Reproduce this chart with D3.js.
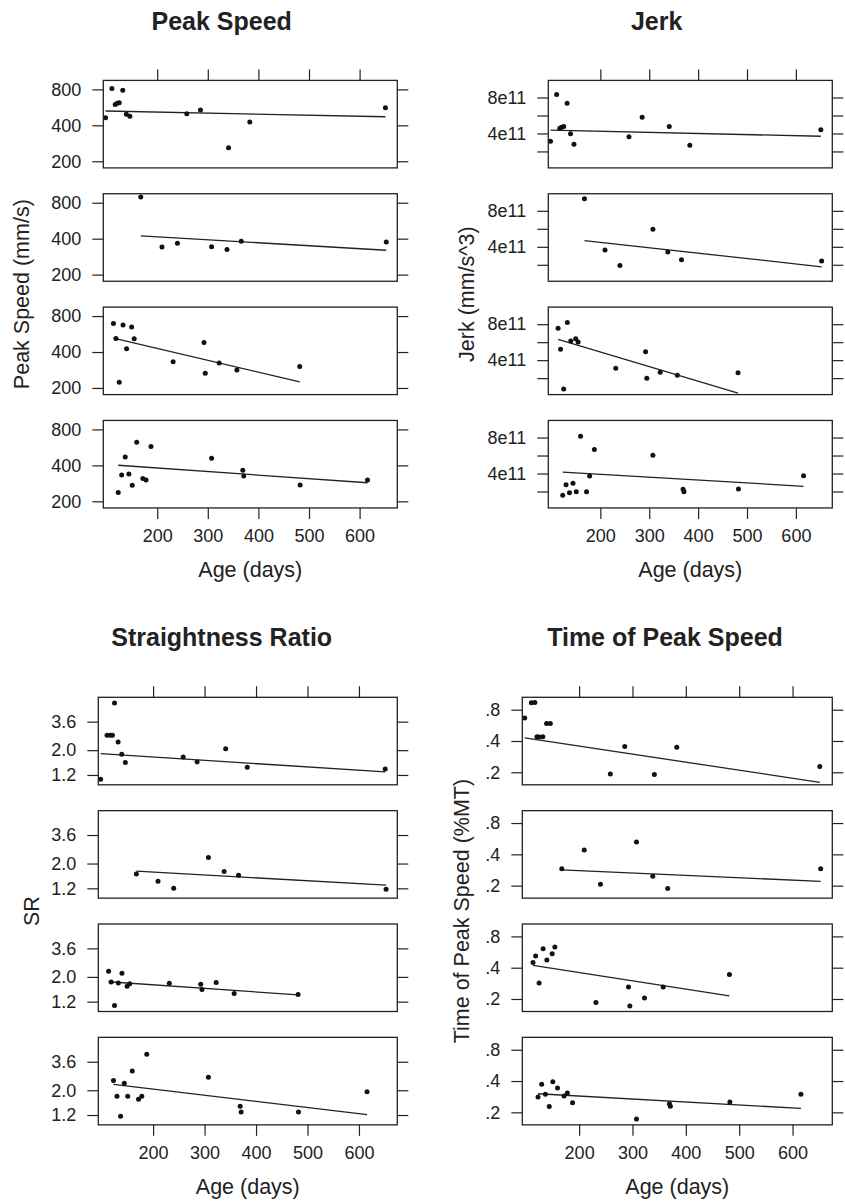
<!DOCTYPE html>
<html><head><meta charset="utf-8">
<script src="https://cdn.jsdelivr.net/npm/d3@7"></script>
<style>
body{margin:0;background:#fff}
svg{display:block}
</style>
</head><body>
<svg id="c" width="845" height="1202"></svg>
<script>
// ---- data: ages (days) per group (subpanel), shared by all four measures ----
const ageG = [
  [98, 110.5, 117, 121, 125, 132, 139, 146, 258.5, 285.5, 341, 383, 651],
  [167.5, 209.5, 240, 307.5, 338, 366, 652.7],
  [113.5, 118.5, 125, 132.5, 139.5, 149.5, 154.5, 231.5, 292.5, 295, 322.5, 357.5, 481.7],
  [123, 129.8, 136.8, 144, 150.7, 159.5, 171.7, 178, 187.7, 307.5, 369.2, 371, 482.5, 615.7]
];
const peakSpeed = [
  [463, 815, 599, 611, 619, 785, 494, 476, 500, 537, 260, 426, 562],
  [893, 341, 366, 343, 324, 381, 375],
  [694, 520, 223, 673, 426, 648, 517, 332, 481, 265, 324, 283, 303],
  [237, 332, 471, 339, 272, 626, 311, 301, 575, 459, 364, 326, 274, 301]
];
const jerk = [
  [3.13e11, 8.34e11, 4.58e11, 4.69e11, 4.76e11, 7.37e11, 3.98e11, 2.79e11, 3.64e11, 5.81e11, 4.76e11, 2.68e11, 4.42e11],
  [9.34e11, 3.64e11, 1.92e11, 5.94e11, 3.42e11, 2.56e11, 2.41e11],
  [7.56e11, 5.20e11, 0.78e11, 8.19e11, 6.12e11, 6.38e11, 6.01e11, 3.10e11, 4.94e11, 2.0e11, 2.66e11, 2.33e11, 2.59e11],
  [1.59e11, 2.76e11, 1.85e11, 2.91e11, 1.96e11, 8.14e11, 1.96e11, 3.71e11, 6.68e11, 6.02e11, 2.25e11, 1.96e11, 2.29e11, 3.75e11]
];
const sr = [
  [1.10, 2.72, 2.72, 2.72, 5.29, 2.37, 1.84, 1.55, 1.74, 1.57, 2.06, 1.41, 1.36],
  [1.61, 1.39, 1.20, 2.27, 1.70, 1.57, 1.18],
  [2.25, 1.80, 1.11, 1.76, 2.16, 1.65, 1.74, 1.75, 1.72, 1.54, 1.78, 1.42, 1.39],
  [2.45, 1.77, 1.17, 2.31, 1.77, 2.97, 1.66, 1.77, 4.19, 2.61, 1.44, 1.28, 1.28, 1.94]
];
const tps = [
  [0.667, 0.933, 0.94, 0.44, 0.438, 0.44, 0.588, 0.588, 0.193, 0.354, 0.190, 0.349, 0.228],
  [0.291, 0.441, 0.206, 0.527, 0.246, 0.188, 0.291],
  [0.450, 0.519, 0.285, 0.610, 0.474, 0.546, 0.633, 0.185, 0.261, 0.171, 0.204, 0.261, 0.345],
  [0.281, 0.372, 0.298, 0.227, 0.394, 0.342, 0.287, 0.307, 0.247, 0.173, 0.242, 0.229, 0.251, 0.298]
];
// fitted line values at the first and last age of each group
const peakSpeedFit = [[527, 472], [422, 320], [524, 225], [401, 286]];
const jerkFit = [[4.36e11, 3.69e11], [4.68e11, 1.78e11], [6.31e11, 0.34e11], [4.15e11, 2.58e11]];
const srFit = [[1.86, 1.28], [1.71, 1.28], [1.81, 1.38], [2.26, 1.21]];
const tpsFit = [[0.429, 0.160], [0.284, 0.220], [0.421, 0.214], [0.302, 0.218]];

// ---- axes ----
const xTicks = [200, 300, 400, 500, 600];
const xDomain = [93.5, 674.5];
const peakSpeedTicks = [200, 400, 800];
const peakSpeedLabels = ["200", "400", "800"];
const peakSpeedDomain = [176, 951];
const jerkTicks = [2e11, 4e11, 6e11, 8e11];
const jerkLabels = ["", "4e11", "", "8e11"];
const jerkDomain = [0.17e11, 9.9e11];
const srTicks = [1.2, 2.0, 3.6];
const srLabels = ["1.2", "2.0", "3.6"];
const srDomain = [0.98, 5.95];
const tpsTicks = [0.2, 0.4, 0.8];
const tpsLabels = [".2", ".4", ".8"];
const tpsDomain = [0.1516, 1.053];

const FONT = '"Liberation Sans", Arial, Helvetica, sans-serif';
const INK = '#222';
const STEP = 113.35, SUBH = 87.5, TICK = 11;

const panels = [
  {title: 'Peak Speed', titleX: 221.7, titleY: 29.5, ylab: 'Peak Speed (mm/s)', ylabX: 22,
   x0: 103.3, x1: 397.3, top: 80.4, log: true, domain: peakSpeedDomain,
   values: peakSpeed, fit: peakSpeedFit, ticks: peakSpeedTicks, labels: peakSpeedLabels},
  {title: 'Jerk', titleX: 656.7, titleY: 29.5, ylab: 'Jerk (mm/s^3)', ylabX: 467,
   x0: 548.3, x1: 832.3, top: 80.4, log: false, domain: jerkDomain,
   values: jerk, fit: jerkFit, ticks: jerkTicks, labels: jerkLabels},
  {title: 'Straightness Ratio', titleX: 221.7, titleY: 646, ylab: 'SR', ylabX: 32,
   x0: 98.3, x1: 397.3, top: 697.3, log: true, domain: srDomain,
   values: sr, fit: srFit, ticks: srTicks, labels: srLabels},
  {title: 'Time of Peak Speed', titleX: 665, titleY: 646, ylab: 'Time of Peak Speed (%MT)', ylabX: 462,
   x0: 522.3, x1: 832.3, top: 697.3, log: true, domain: tpsDomain,
   values: tps, fit: tpsFit, ticks: tpsTicks, labels: tpsLabels}
];

const svg = d3.select('#c');
svg.append('rect').attr('width', 845).attr('height', 1202).attr('fill', '#fff');

function styleAxis(g, size) {
  g.select('.domain').remove();
  g.attr('font-family', FONT).attr('font-size', size).attr('color', INK);
  g.selectAll('.tick line').attr('stroke-width', 1.2);
  g.selectAll('.tick text').attr('fill', INK);
}

panels.forEach(p => {
  const x = d3.scaleLinear().domain(xDomain).range([p.x0, p.x1]);
  const root = svg.append('g');

  root.append('text').attr('x', p.titleX).attr('y', p.titleY)
    .attr('text-anchor', 'middle').attr('font-family', FONT)
    .attr('font-weight', 'bold').attr('font-size', 25).attr('fill', INK)
    .text(p.title);

  const blockMid = p.top + (3 * STEP + SUBH) / 2;
  root.append('text')
    .attr('transform', `translate(${p.ylabX},${blockMid}) rotate(-90)`)
    .attr('text-anchor', 'middle').attr('dominant-baseline', 'central')
    .attr('font-family', FONT).attr('font-size', 21.5).attr('fill', INK)
    .text(p.ylab);

  p.values.forEach((vals, i) => {
    const top = p.top + i * STEP;
    const y = (p.log ? d3.scaleLog() : d3.scaleLinear()).domain(p.domain).range([top + SUBH, top]);
    const g = root.append('g');
    const fmt = d => p.labels[p.ticks.indexOf(d)];

    g.append('g').attr('transform', `translate(${p.x0},0)`)
      .call(d3.axisLeft(y).tickValues(p.ticks).tickSize(TICK).tickPadding(11).tickFormat(fmt))
      .call(a => styleAxis(a, 18));
    g.append('g').attr('transform', `translate(${p.x1},0)`)
      .call(d3.axisRight(y).tickValues(p.ticks).tickSize(TICK).tickFormat(''))
      .call(a => styleAxis(a, 18));

    if (i === 0) {
      g.append('g').attr('transform', `translate(0,${top})`)
        .call(d3.axisTop(x).tickValues(xTicks).tickSize(TICK).tickFormat(''))
        .call(a => styleAxis(a, 18));
    }
    if (i === p.values.length - 1) {
      g.append('g').attr('transform', `translate(0,${top + SUBH})`)
        .call(d3.axisBottom(x).tickValues(xTicks).tickSize(TICK).tickPadding(10.5).tickFormat(d3.format('d')))
        .call(a => styleAxis(a, 18));
      g.append('text').attr('x', (p.x0 + p.x1) / 2).attr('y', top + SUBH + 69.5)
        .attr('text-anchor', 'middle').attr('font-family', FONT)
        .attr('font-size', 21.5).attr('fill', INK).text('Age (days)');
    }

    const ages = ageG[i];
    const ext = d3.extent(ages);
    g.append('line')
      .attr('x1', x(ext[0])).attr('y1', y(p.fit[i][0]))
      .attr('x2', x(ext[1])).attr('y2', y(p.fit[i][1]))
      .attr('stroke', INK).attr('stroke-width', 1.3);

    g.selectAll('circle').data(vals).join('circle')
      .attr('cx', (d, j) => x(ages[j])).attr('cy', d => y(d))
      .attr('r', 2.5).attr('fill', '#111');

    g.append('rect').attr('x', p.x0).attr('y', top)
      .attr('width', p.x1 - p.x0).attr('height', SUBH)
      .attr('fill', 'none').attr('stroke', INK).attr('stroke-width', 1.3);
  });
});
</script>
</body></html>
